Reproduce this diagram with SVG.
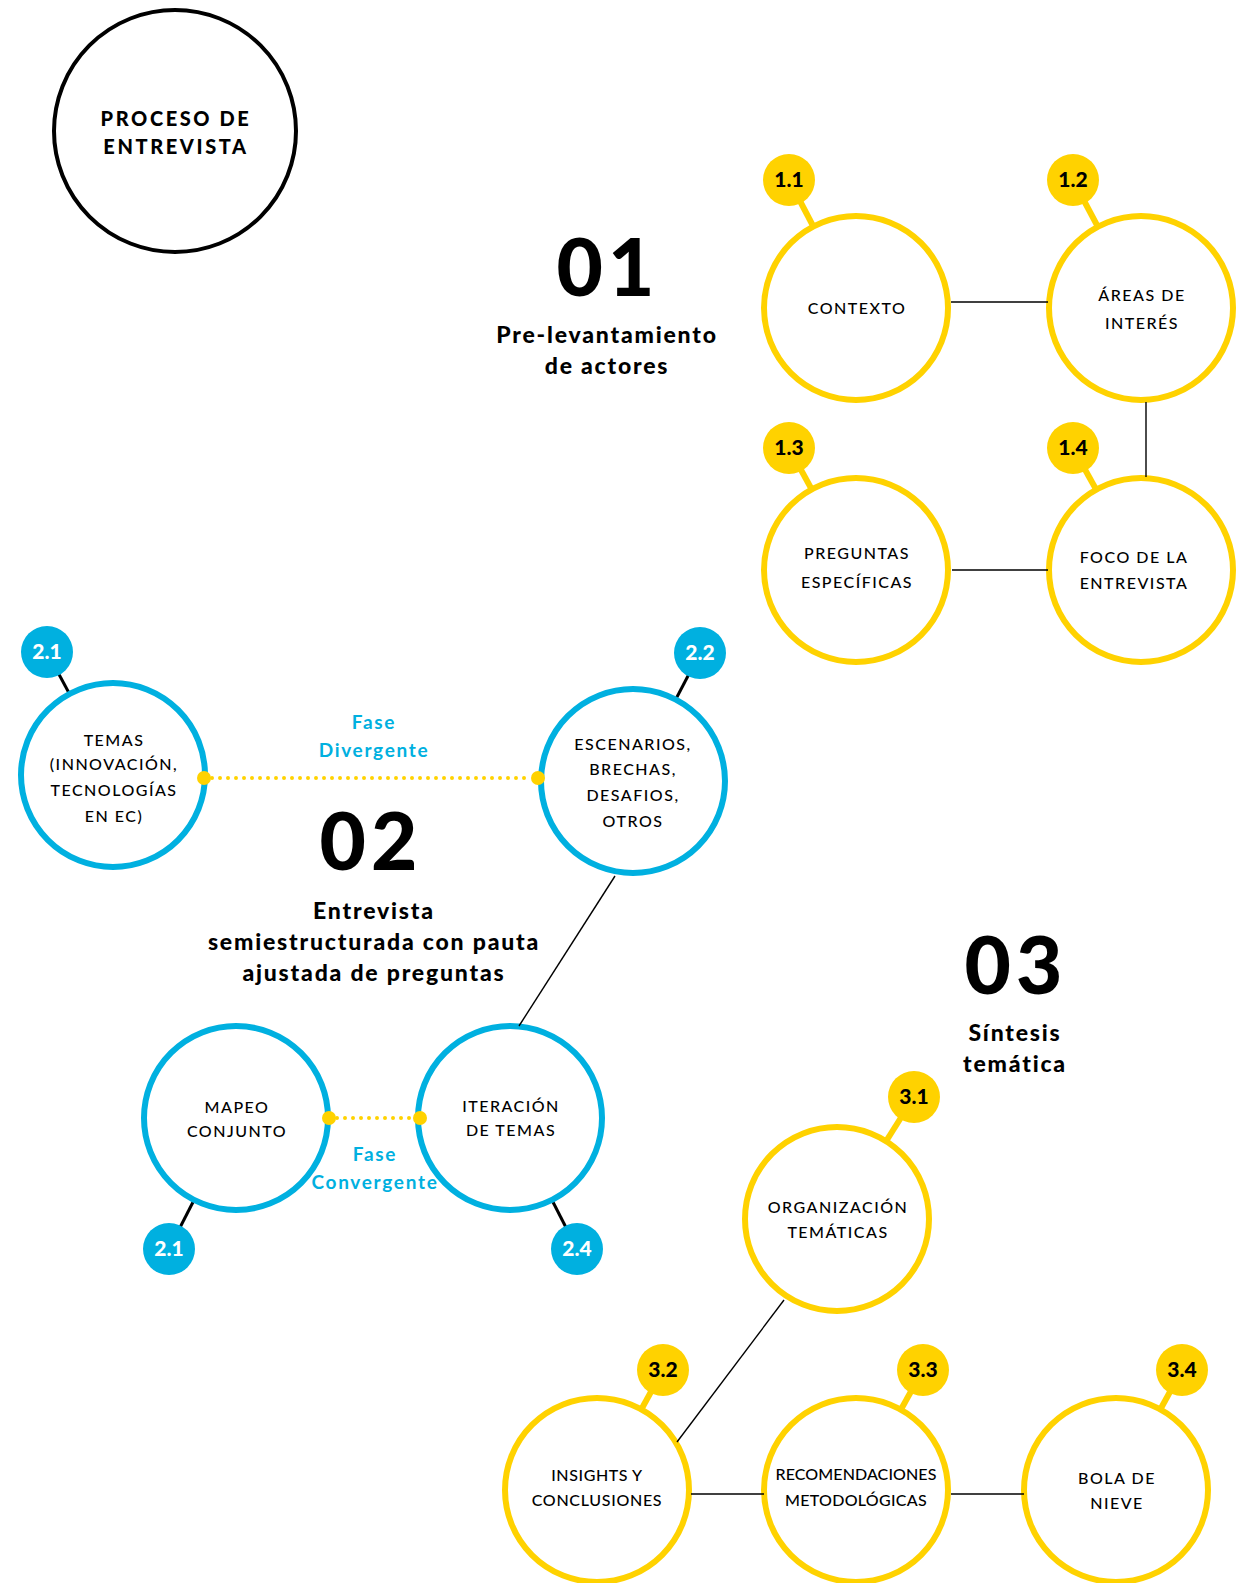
<svg xmlns="http://www.w3.org/2000/svg" width="1244" height="1583" viewBox="0 0 1244 1583">
  <style>
    .ring-y { fill: #fff; stroke: #FFD200; stroke-width: 6; }
    .ring-b { fill: #fff; stroke: #00B0E0; stroke-width: 6; }
    .ring-k { fill: #fff; stroke: #000; stroke-width: 4; }
    .badge-y { fill: #FFD200; }
    .badge-b { fill: #00B0E0; }
    .stem-y { stroke: #FFD200; stroke-width: 6; }
    .stem-k { stroke: #000; stroke-width: 3; }
    .link { stroke: #000; stroke-width: 1.4; fill: none; }
    .dots { stroke: #FFD200; stroke-width: 4; stroke-linecap: round; stroke-dasharray: 0 8; fill: none; }
    .dot { fill: #FFD200; }
    .lbl { font-family: Lato, "Liberation Sans", sans-serif; font-size: 16px; font-weight: 500; fill: #000; text-anchor: middle; letter-spacing: 1.5px; }
    .num { font-family: Lato, "Liberation Sans", sans-serif; font-size: 21px; font-weight: 900; text-anchor: middle; }
    .num-k { fill: #000; }
    .num-w { fill: #fff; }
    .big { font-family: Lato, "Liberation Sans", sans-serif; font-size: 80px; font-weight: 900; fill: #000; text-anchor: middle; letter-spacing: 5px; }
    .sub { font-family: Lato, "Liberation Sans", sans-serif; font-size: 23px; font-weight: 900; fill: #000; text-anchor: middle; letter-spacing: 1.8px; }
    .phase { font-family: Lato, "Liberation Sans", sans-serif; font-size: 19px; font-weight: 700; fill: #00B0E0; text-anchor: middle; letter-spacing: 1.7px; }
    .title { font-family: Lato, "Liberation Sans", sans-serif; font-size: 20px; font-weight: 900; fill: #000; text-anchor: middle; letter-spacing: 2.6px; }
  </style>

  <!-- title -->
  <g id="proceso">
    <circle class="ring-k" cx="175" cy="131" r="121"/>
    <text class="title" x="176" y="126">PROCESO DE</text>
    <text class="title" x="176" y="154">ENTREVISTA</text>
  </g>

  <!-- phase 01 -->
  <g id="fase-01">
    <text class="big" x="608" y="296">01</text>
    <text class="sub" x="607" y="343">Pre-levantamiento</text>
    <text class="sub" x="607" y="374">de actores</text>
  </g>

  <g id="n1-1">
    <line class="stem-y" x1="789" y1="180" x2="856" y2="308"/>
    <circle class="ring-y" cx="856" cy="308" r="92"/>
    <circle class="badge-y" cx="789" cy="180" r="26"/>
    <text class="num num-k" x="789" y="187">1.1</text>
    <text class="lbl" x="857" y="314">CONTEXTO</text>
  </g>
  <g id="n1-2">
    <line class="stem-y" x1="1073" y1="180" x2="1141" y2="308"/>
    <circle class="ring-y" cx="1141" cy="308" r="92"/>
    <circle class="badge-y" cx="1073" cy="180" r="26"/>
    <text class="num num-k" x="1073" y="187">1.2</text>
    <text class="lbl" x="1142" y="301">ÁREAS DE</text>
    <text class="lbl" x="1142" y="329">INTERÉS</text>
  </g>
  <g id="n1-3">
    <line class="stem-y" x1="789" y1="448" x2="856" y2="570"/>
    <circle class="ring-y" cx="856" cy="570" r="92"/>
    <circle class="badge-y" cx="789" cy="448" r="26"/>
    <text class="num num-k" x="789" y="455">1.3</text>
    <text class="lbl" x="857" y="559">PREGUNTAS</text>
    <text class="lbl" x="857" y="588">ESPECÍFICAS</text>
  </g>
  <g id="n1-4">
    <line class="stem-y" x1="1073" y1="448" x2="1141" y2="570"/>
    <circle class="ring-y" cx="1141" cy="570" r="92"/>
    <circle class="badge-y" cx="1073" cy="448" r="26"/>
    <text class="num num-k" x="1073" y="455">1.4</text>
    <text class="lbl" x="1134" y="563">FOCO DE LA</text>
    <text class="lbl" x="1134" y="589">ENTREVISTA</text>
  </g>

  <!-- phase 02 -->
  <g id="fase-02">
    <text class="big" x="371" y="870">02</text>
    <text class="sub" x="374" y="919">Entrevista</text>
    <text class="sub" x="374" y="950">semiestructurada con pauta</text>
    <text class="sub" x="374" y="981">ajustada de preguntas</text>
    <text class="phase" x="374" y="729">Fase</text>
    <text class="phase" x="374" y="757">Divergente</text>
    <text class="phase" x="375" y="1161">Fase</text>
    <text class="phase" x="375" y="1189">Convergente</text>
  </g>

  <g id="n2-1">
    <line class="stem-k" x1="47" y1="652" x2="113" y2="775"/>
    <circle class="ring-b" cx="113" cy="775" r="92"/>
    <circle class="badge-b" cx="47" cy="652" r="26"/>
    <text class="num num-w" x="47" y="659">2.1</text>
    <text class="lbl" x="114" y="746">TEMAS</text>
    <text class="lbl" x="114" y="770">(INNOVACIÓN,</text>
    <text class="lbl" x="114" y="796">TECNOLOGÍAS</text>
    <text class="lbl" x="114" y="822">EN EC)</text>
  </g>
  <g id="n2-2">
    <line class="stem-k" x1="700" y1="653" x2="633" y2="781"/>
    <circle class="ring-b" cx="633" cy="781" r="92"/>
    <circle class="badge-b" cx="700" cy="653" r="26"/>
    <text class="num num-w" x="700" y="660">2.2</text>
    <text class="lbl" x="633" y="750">ESCENARIOS,</text>
    <text class="lbl" x="633" y="775">BRECHAS,</text>
    <text class="lbl" x="633" y="801">DESAFIOS,</text>
    <text class="lbl" x="633" y="827">OTROS</text>
  </g>
  <g id="n2-3">
    <line class="stem-k" x1="169" y1="1249" x2="236" y2="1118"/>
    <circle class="ring-b" cx="236" cy="1118" r="92"/>
    <circle class="badge-b" cx="169" cy="1249" r="26"/>
    <text class="num num-w" x="169" y="1256">2.1</text>
    <text class="lbl" x="237" y="1113">MAPEO</text>
    <text class="lbl" x="237" y="1137">CONJUNTO</text>
  </g>
  <g id="n2-4">
    <line class="stem-k" x1="577" y1="1249" x2="510" y2="1118"/>
    <circle class="ring-b" cx="510" cy="1118" r="92"/>
    <circle class="badge-b" cx="577" cy="1249" r="26"/>
    <text class="num num-w" x="577" y="1256">2.4</text>
    <text class="lbl" x="511" y="1112">ITERACIÓN</text>
    <text class="lbl" x="511" y="1136">DE TEMAS</text>
  </g>

  <!-- phase 03 -->
  <g id="fase-03">
    <text class="big" x="1016" y="994">03</text>
    <text class="sub" x="1015" y="1041">Síntesis</text>
    <text class="sub" x="1015" y="1072">temática</text>
  </g>

  <g id="n3-1">
    <line class="stem-y" x1="914" y1="1097" x2="837" y2="1219"/>
    <circle class="ring-y" cx="837" cy="1219" r="92"/>
    <circle class="badge-y" cx="914" cy="1097" r="26"/>
    <text class="num num-k" x="914" y="1104">3.1</text>
    <text class="lbl" x="838" y="1213">ORGANIZACIÓN</text>
    <text class="lbl" x="838" y="1238">TEMÁTICAS</text>
  </g>
  <g id="n3-2">
    <line class="stem-y" x1="663" y1="1370" x2="597" y2="1490"/>
    <circle class="ring-y" cx="597" cy="1490" r="92"/>
    <circle class="badge-y" cx="663" cy="1370" r="26"/>
    <text class="num num-k" x="663" y="1377">3.2</text>
    <text class="lbl" x="597" y="1481" style="letter-spacing:0.6px">INSIGHTS Y</text>
    <text class="lbl" x="597" y="1506" style="letter-spacing:0.7px">CONCLUSIONES</text>
  </g>
  <g id="n3-3">
    <line class="stem-y" x1="923" y1="1370" x2="856" y2="1490"/>
    <circle class="ring-y" cx="856" cy="1490" r="92"/>
    <circle class="badge-y" cx="923" cy="1370" r="26"/>
    <text class="num num-k" x="923" y="1377">3.3</text>
    <text class="lbl" x="856" y="1480" style="letter-spacing:0.1px">RECOMENDACIONES</text>
    <text class="lbl" x="856" y="1506" style="letter-spacing:0.3px">METODOLÓGICAS</text>
  </g>
  <g id="n3-4">
    <line class="stem-y" x1="1182" y1="1370" x2="1116" y2="1490"/>
    <circle class="ring-y" cx="1116" cy="1490" r="92"/>
    <circle class="badge-y" cx="1182" cy="1370" r="26"/>
    <text class="num num-k" x="1182" y="1377">3.4</text>
    <text class="lbl" x="1117" y="1484">BOLA DE</text>
    <text class="lbl" x="1117" y="1509">NIEVE</text>
  </g>

  <!-- connectors between nodes, drawn above the rings so the end dots sit on them -->
  <g id="connectors">
    <line class="link" x1="951" y1="302" x2="1048" y2="302"/>
    <line class="link" x1="1146" y1="402" x2="1146" y2="477"/>
    <line class="link" x1="952" y1="570" x2="1048" y2="570"/>
    <line class="link" x1="615" y1="876" x2="519" y2="1026"/>
    <line class="link" x1="784" y1="1300" x2="677" y2="1442"/>
    <line class="link" x1="691" y1="1494" x2="764" y2="1494"/>
    <line class="link" x1="951" y1="1494" x2="1024" y2="1494"/>
    <line class="dots" x1="212" y1="778" x2="530" y2="778"/>
    <line class="dots" x1="337" y1="1118" x2="412" y2="1118"/>
    <circle class="dot" cx="204" cy="778" r="7"/>
    <circle class="dot" cx="538" cy="778" r="7"/>
    <circle class="dot" cx="329" cy="1118" r="7"/>
    <circle class="dot" cx="420" cy="1118" r="7"/>
  </g>
</svg>
